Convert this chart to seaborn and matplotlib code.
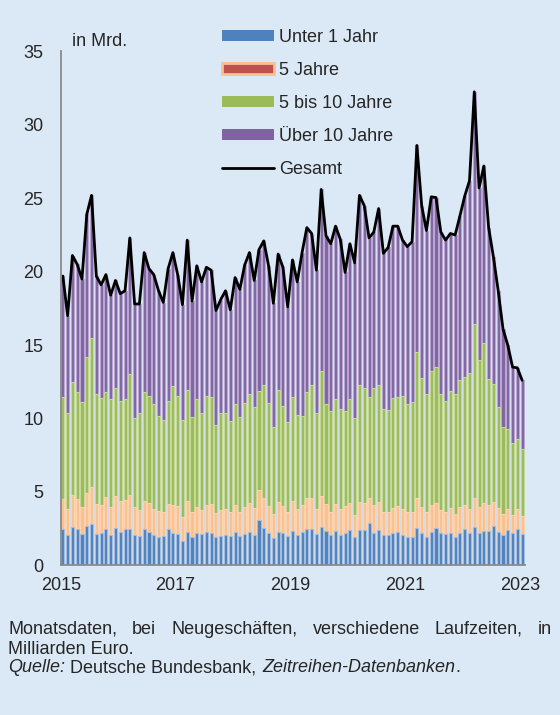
import numpy as np
import pandas as pd
import matplotlib
matplotlib.use("Agg")
import matplotlib.pyplot as plt
import seaborn as sns
from matplotlib.patches import Patch
from matplotlib.lines import Line2D

# monthly, Jan 2015 .. Jan 2023 (97 months), in Mrd. Euro
unter_1_jahr = [
    2.45, 2.05, 2.60, 2.50, 2.15, 2.65, 2.80, 2.15, 2.20, 2.45, 2.05, 2.55,
    2.25, 2.45, 2.50, 2.05, 2.00, 2.45, 2.30, 2.05, 1.95, 2.00, 2.45, 2.20,
    2.15, 1.65, 2.30, 1.90, 2.20, 2.15, 2.25, 2.20, 1.90, 2.00, 2.05, 2.00,
    2.25, 2.00, 2.15, 2.25, 2.05, 3.10, 2.55, 2.20, 1.85, 2.30, 2.20, 2.00,
    2.35, 2.05, 2.25, 2.45, 2.45, 2.10, 2.60, 2.35, 2.05, 2.35, 2.05, 2.20,
    2.40, 1.90, 2.40, 2.40, 2.85, 2.20, 2.40, 2.05, 2.05, 2.20, 2.25, 2.05,
    1.95, 1.95, 2.55, 2.20, 1.90, 2.25, 2.55, 2.20, 2.10, 2.20, 1.90, 2.20,
    2.50, 2.20, 2.60, 2.20, 2.35, 2.35, 2.70, 2.30, 2.05, 2.40, 2.20, 2.50,
    2.10,
]
fuenf_jahre = [
    2.05, 1.80, 2.20, 2.00, 1.85, 2.25, 2.50, 2.00, 1.90, 2.20, 1.90, 2.15,
    2.15, 2.00, 2.30, 1.90, 1.75, 1.95, 1.95, 1.80, 1.75, 1.60, 1.70, 1.90,
    1.90, 1.65, 2.05, 1.70, 1.80, 1.60, 1.85, 2.00, 1.65, 1.75, 1.75, 1.65,
    1.85, 1.65, 1.85, 2.00, 1.85, 2.00, 2.05, 1.85, 1.65, 2.00, 1.85, 1.60,
    2.05, 1.80, 1.85, 2.15, 2.10, 1.75, 2.15, 1.80, 1.60, 1.80, 1.75, 1.85,
    1.85, 1.55, 1.90, 1.85, 1.75, 1.90, 1.90, 1.60, 1.60, 1.70, 1.80, 1.80,
    1.65, 1.65, 2.05, 1.80, 1.70, 1.85, 1.70, 1.55, 1.50, 1.70, 1.60, 1.75,
    1.60, 1.60, 2.00, 1.75, 1.90, 1.75, 1.60, 1.60, 1.45, 1.40, 1.25, 1.30,
    1.25,
]
fuenf_bis_10 = [
    6.95, 6.55, 7.70, 7.30, 7.10, 9.30, 10.20, 7.55, 7.30, 7.15, 7.35, 7.40,
    6.80, 6.85, 8.20, 6.05, 6.65, 7.40, 7.25, 7.15, 6.50, 6.30, 7.05, 8.10,
    7.45, 6.60, 7.60, 6.50, 7.35, 6.65, 7.40, 7.25, 6.00, 6.65, 6.60, 6.15,
    6.90, 6.45, 7.05, 7.45, 6.85, 6.75, 7.70, 7.00, 5.90, 7.65, 6.80, 6.15,
    7.05, 6.40, 6.10, 7.20, 7.75, 6.50, 8.50, 6.85, 6.85, 7.20, 6.85, 6.45,
    7.10, 6.55, 8.00, 7.85, 6.85, 8.00, 8.00, 7.00, 6.95, 7.50, 7.40, 7.70,
    7.40, 7.50, 9.95, 8.75, 8.10, 9.15, 9.25, 7.95, 7.60, 8.00, 8.20, 8.65,
    8.70, 9.30, 11.85, 10.00, 10.90, 8.60, 8.05, 6.90, 5.90, 5.45, 4.85, 4.80,
    4.55,
]
ueber_10 = [
    8.25, 6.60, 8.60, 8.70, 8.40, 9.70, 9.70, 8.00, 7.70, 8.00, 7.10, 7.30,
    7.30, 7.40, 9.30, 7.80, 7.40, 9.50, 8.70, 8.80, 8.50, 8.00, 9.00, 9.10,
    8.30, 7.85, 10.20, 7.90, 9.05, 8.90, 8.80, 8.65, 7.80, 7.70, 8.30, 7.60,
    8.60, 8.70, 9.40, 9.60, 8.65, 9.65, 9.80, 9.35, 8.45, 9.25, 9.45, 7.85,
    9.35, 9.05, 11.10, 11.20, 10.30, 9.75, 12.35, 11.45, 11.40, 11.75, 11.55, 9.45,
    10.55, 10.60, 12.90, 12.40, 10.85, 10.60, 12.00, 10.60, 11.05, 11.70, 11.65, 10.60,
    10.70, 10.95, 14.05, 11.75, 11.10, 11.85, 11.55, 11.00, 10.95, 10.70, 10.80, 11.20,
    12.35, 13.10, 15.80, 11.75, 12.05, 10.30, 8.65, 7.90, 6.70, 5.75, 5.20, 4.85,
    4.70,
]
year_labels = ["2015", "2017", "2019", "2021", "2023"]
series_names = ["Unter 1 Jahr", "5 Jahre", "5 bis 10 Jahre", "Über 10 Jahre", "Gesamt"]

bg = "#dbe8f5"
blue, orange, green, purple = "#4f81bd", "#fac090", "#9bbb59", "#8064a2"
edges = {blue: "#a3bde0", orange: "#fcd3b0", green: "#c3d89a", purple: "#b8a8cf"}

df = pd.DataFrame({
    "month": np.arange(len(unter_1_jahr)),
    "u1": unter_1_jahr, "j5": fuenf_jahre, "j10": fuenf_bis_10, "ue10": ueber_10,
})
# cumulative levels for the stacked look (drawn back to front)
df["lvl1"] = df["u1"]
df["lvl2"] = df["lvl1"] + df["j5"]
df["lvl3"] = df["lvl2"] + df["j10"]
df["gesamt"] = df["lvl3"] + df["ue10"]

sns.set_style("white")
plt.rcParams["font.family"] = ["Liberation Sans", "DejaVu Sans"]

fig = plt.figure(figsize=(5.6, 7.15), dpi=100, facecolor=bg)
ax = fig.add_axes([0.1084, 0.2094, 0.8291, 0.7186])
ax.set_facecolor(bg)

for col, c in [("gesamt", purple), ("lvl3", green), ("lvl2", orange), ("lvl1", blue)]:
    sns.barplot(data=df, x="month", y=col, native_scale=True, color=c, saturation=1,
                width=0.64, edgecolor=edges[c], linewidth=0.8, errorbar=None, ax=ax)
sns.lineplot(data=df, x="month", y="gesamt", color="black", linewidth=2.0, ax=ax)

ax.set_xlim(-0.45, 96.6)
ax.set_ylim(0, 35)
ax.set_yticks(range(0, 36, 5))
ax.set_xticks([-0.45 + 24 * k for k in range(5)])
ax.set_xticklabels(year_labels)
ax.set_xlabel("")
ax.set_ylabel("")
for s in ["top", "right"]:
    ax.spines[s].set_visible(False)
for s in ["left", "bottom"]:
    ax.spines[s].set_color("#8a8a8a")
    ax.spines[s].set_linewidth(1.3)
ax.tick_params(axis="y", direction="out", length=4.5, width=1.3, color="#8a8a8a",
               labelsize=13, pad=8)
ax.tick_params(axis="x", direction="out", length=4.5, width=1.3, color="#8a8a8a",
               labelsize=13, pad=4)

fig.text(72 / 560, 1 - 46 / 715, "in Mrd.", fontsize=13, va="baseline")

handles = [
    Patch(facecolor=blue, edgecolor="none"),
    Patch(facecolor="#c0504d", edgecolor=orange, linewidth=2),
    Patch(facecolor=green, edgecolor="none"),
    Patch(facecolor=purple, edgecolor="none"),
    Line2D([], [], color="black", linewidth=2.0),
]
fig.legend(handles, series_names, loc="upper left", bbox_to_anchor=(222 / 560, 1 - 29 / 715),
           frameon=False, fontsize=13, handlelength=2.88, handleheight=0.55,
           handletextpad=0.3, labelspacing=0.88, borderpad=0, borderaxespad=0)

# footnote, first line justified
renderer = fig.canvas.get_renderer()

def width_of(txt, **kw):
    t = fig.text(0, 0, txt, fontsize=13, **kw)
    w = t.get_window_extent(renderer).width
    t.remove()
    return w

words = "Monatsdaten, bei Neugeschäften, verschiedene Laufzeiten, in".split()
widths = [width_of(w) for w in words]
gap = (552 - 8 - sum(widths)) / (len(words) - 1)
x = 8
for w, wd in zip(words, widths):
    fig.text(x / 560, 1 - 629 / 715, w, fontsize=13, va="center")
    x += wd + gap
fig.text(8 / 560, 1 - 649 / 715, "Milliarden Euro.", fontsize=13, va="center")

x = 8
space = width_of("a a") - width_of("aa")
for seg, style in [("Quelle:", "italic"), (" ", None), ("Deutsche Bundesbank,", "normal"),
                   (" ", None), ("Zeitreihen-Datenbanken", "italic"), (".", "normal")]:
    if style is None:
        x += space
        continue
    fig.text(x / 560, 1 - 668 / 715, seg, fontsize=13, style=style, va="center")
    x += width_of(seg, style=style) + 0.5

fig.savefig("out.png", dpi=100, facecolor=bg)
